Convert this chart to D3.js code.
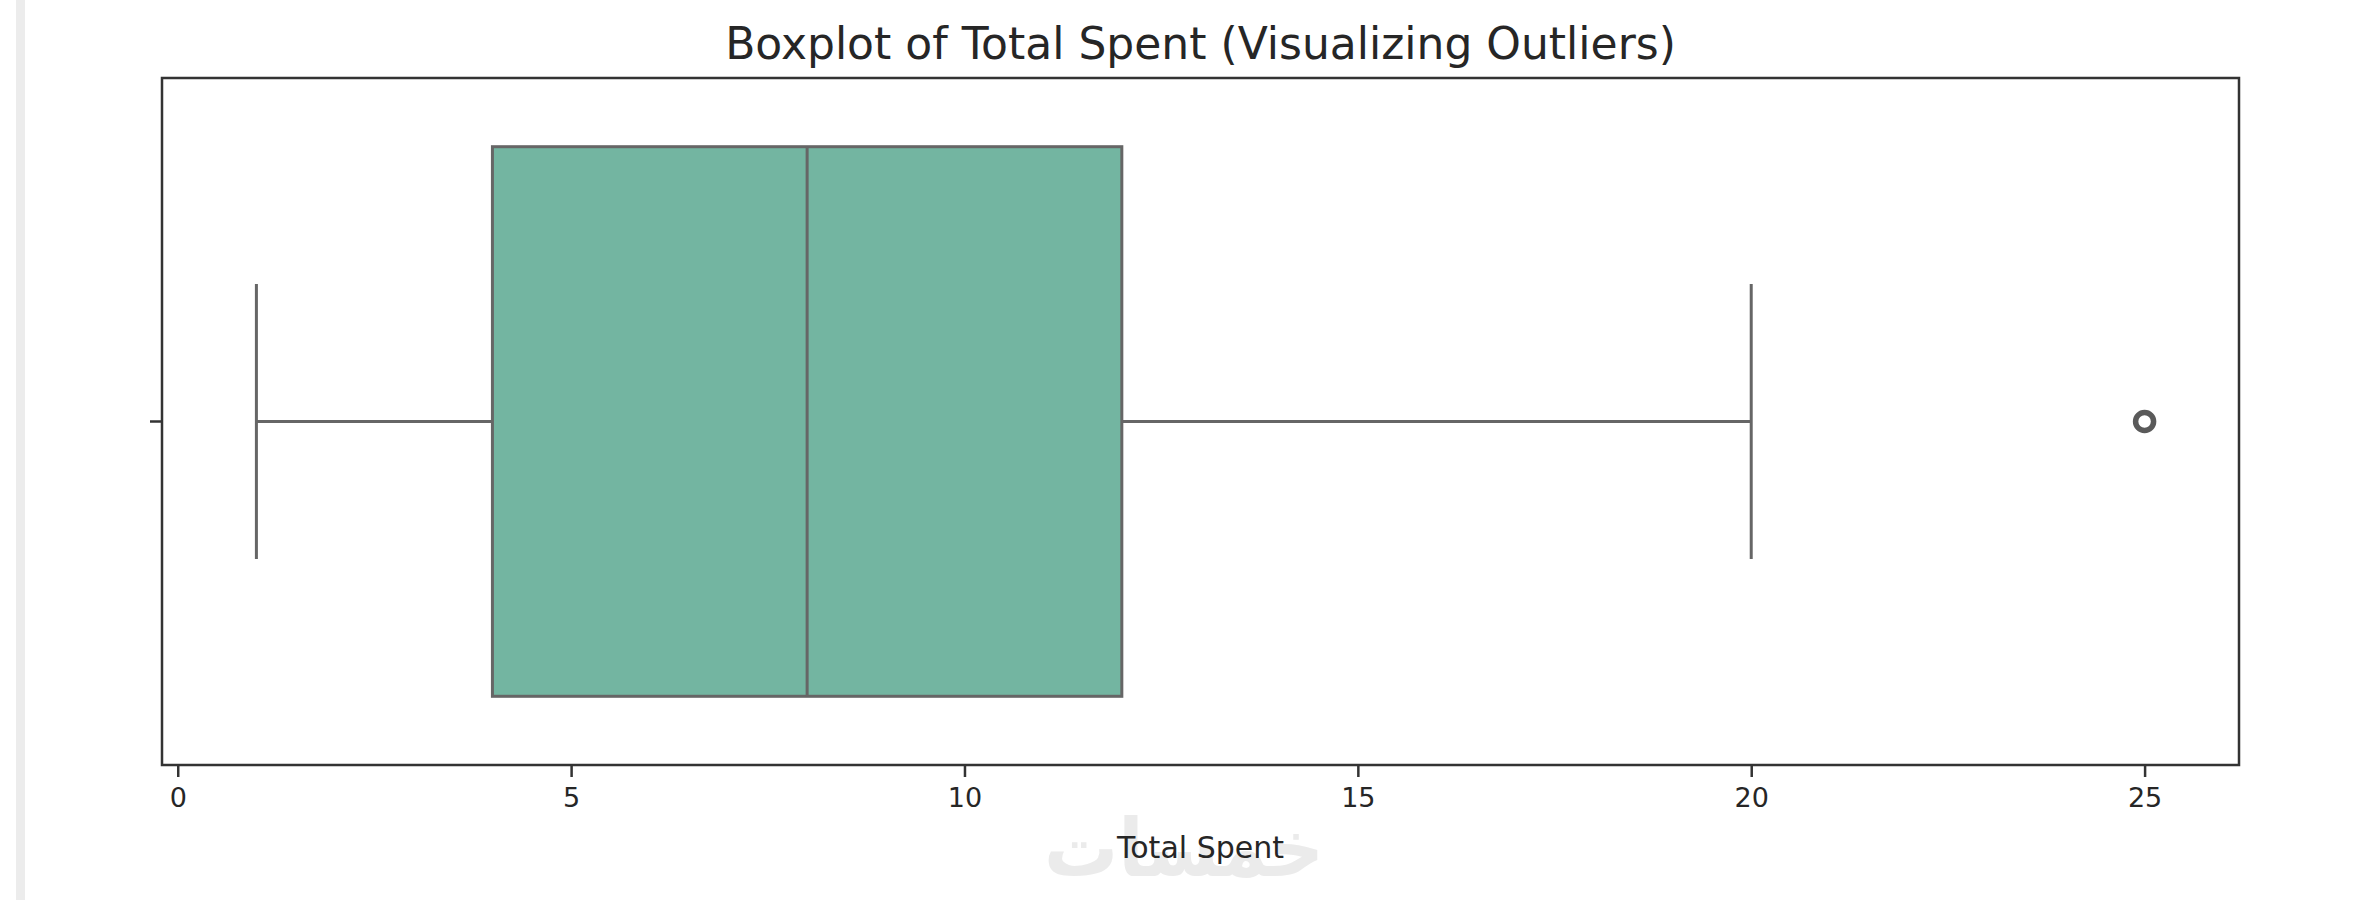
<!DOCTYPE html>
<html>
<head>
<meta charset="utf-8">
<script src="https://cdn.jsdelivr.net/npm/d3@7"></script>
<style>
  html, body { margin: 0; padding: 0; background: #ffffff; }
  svg { display: block; }
</style>
</head>
<body>
<svg id="chart" width="2363" height="900"></svg>
<script>
// ---- data ----
const category = ["Total Spent"];
const whiskerLow = [1];
const q1 = [4];
const median = [8];
const q3 = [12];
const whiskerHigh = [20];
const outliers = [25];
const xTicks = [0, 5, 10, 15, 20, 25];
const xDomain = [-0.2, 26.2];
const titleText = "Boxplot of Total Spent (Visualizing Outliers)";
const xLabelText = "Total Spent";
const watermarkText = "خمسات";

// ---- layout ----
const W = 2363, H = 900;
const plot = { left: 162, right: 2239, top: 78, bottom: 765 };
const font = "'DejaVu Sans', sans-serif";
const svg = d3.select("#chart");

// left gray page strip
svg.append("rect").attr("x", 16).attr("y", 0).attr("width", 9).attr("height", H)
  .attr("fill", "#ececec");

const x = d3.scaleLinear().domain(xDomain).range([plot.left, plot.right]);
const y = d3.scaleBand().domain(category).range([plot.top, plot.bottom]).paddingInner(0).paddingOuter(0);

const boxW = 0.8, capW = 0.4;
const lineColor = "#666666";
const boxFill = "#73b5a1";

const g = svg.append("g");

category.forEach((c, i) => {
  const yc = y(c) + y.bandwidth() / 2;
  const bh = y.bandwidth() * boxW;
  const ch = y.bandwidth() * capW;
  // whiskers
  g.append("line").attr("x1", x(whiskerLow[i])).attr("x2", x(q1[i]))
    .attr("y1", yc).attr("y2", yc).attr("stroke", lineColor).attr("stroke-width", 3);
  g.append("line").attr("x1", x(q3[i])).attr("x2", x(whiskerHigh[i]))
    .attr("y1", yc).attr("y2", yc).attr("stroke", lineColor).attr("stroke-width", 3);
  // caps
  [whiskerLow[i], whiskerHigh[i]].forEach(v => {
    g.append("line").attr("x1", x(v)).attr("x2", x(v))
      .attr("y1", yc - ch / 2).attr("y2", yc + ch / 2)
      .attr("stroke", lineColor).attr("stroke-width", 3);
  });
  // box
  g.append("rect").attr("x", x(q1[i])).attr("y", yc - bh / 2)
    .attr("width", x(q3[i]) - x(q1[i])).attr("height", bh)
    .attr("fill", boxFill).attr("stroke", lineColor).attr("stroke-width", 3);
  // median
  g.append("line").attr("x1", x(median[i])).attr("x2", x(median[i]))
    .attr("y1", yc - bh / 2).attr("y2", yc + bh / 2)
    .attr("stroke", lineColor).attr("stroke-width", 3);
  // outliers
  g.selectAll(null).data(outliers).enter().append("circle")
    .attr("cx", d => x(d)).attr("cy", yc).attr("r", 9)
    .attr("fill", "none").attr("stroke", "#5a5a5a").attr("stroke-width", 5.5);
});

// frame
svg.append("rect").attr("x", plot.left).attr("y", plot.top)
  .attr("width", plot.right - plot.left).attr("height", plot.bottom - plot.top)
  .attr("fill", "none").attr("stroke", "#333333").attr("stroke-width", 2.5);

// x axis
const xAxis = d3.axisBottom(x).tickValues(xTicks).tickSize(12).tickPadding(11).tickFormat(d3.format("d"));
const xg = svg.append("g").attr("transform", `translate(0,${plot.bottom})`).call(xAxis);
xg.select(".domain").remove();
xg.selectAll(".tick line").attr("stroke", "#333333").attr("stroke-width", 2.5);
xg.selectAll(".tick text").attr("fill", "#262626").style("font-family", font).style("font-size", "27px");

// y axis (single unlabeled tick)
const yAxis = d3.axisLeft(y).tickSize(12).tickFormat(() => "");
const yg = svg.append("g").attr("transform", `translate(${plot.left},0)`).call(yAxis);
yg.select(".domain").remove();
yg.selectAll(".tick line").attr("stroke", "#333333").attr("stroke-width", 2.5);

// watermark
svg.append("text").attr("x", 1184).attr("y", 876)
  .attr("text-anchor", "middle").attr("fill", "#ebebeb")
  .attr("textLength", 280).attr("lengthAdjust", "spacingAndGlyphs")
  .style("font-family", font).style("font-size", "80px").style("font-weight", "bold")
  .text(watermarkText);

// x label
svg.append("text").attr("x", (plot.left + plot.right) / 2).attr("y", 858)
  .attr("text-anchor", "middle").attr("fill", "#262626")
  .style("font-family", font).style("font-size", "30px")
  .text(xLabelText);

// title
svg.append("text").attr("x", (plot.left + plot.right) / 2).attr("y", 59)
  .attr("text-anchor", "middle").attr("fill", "#262626")
  .style("font-family", font).style("font-size", "44px")
  .text(titleText);
</script>
</body>
</html>
